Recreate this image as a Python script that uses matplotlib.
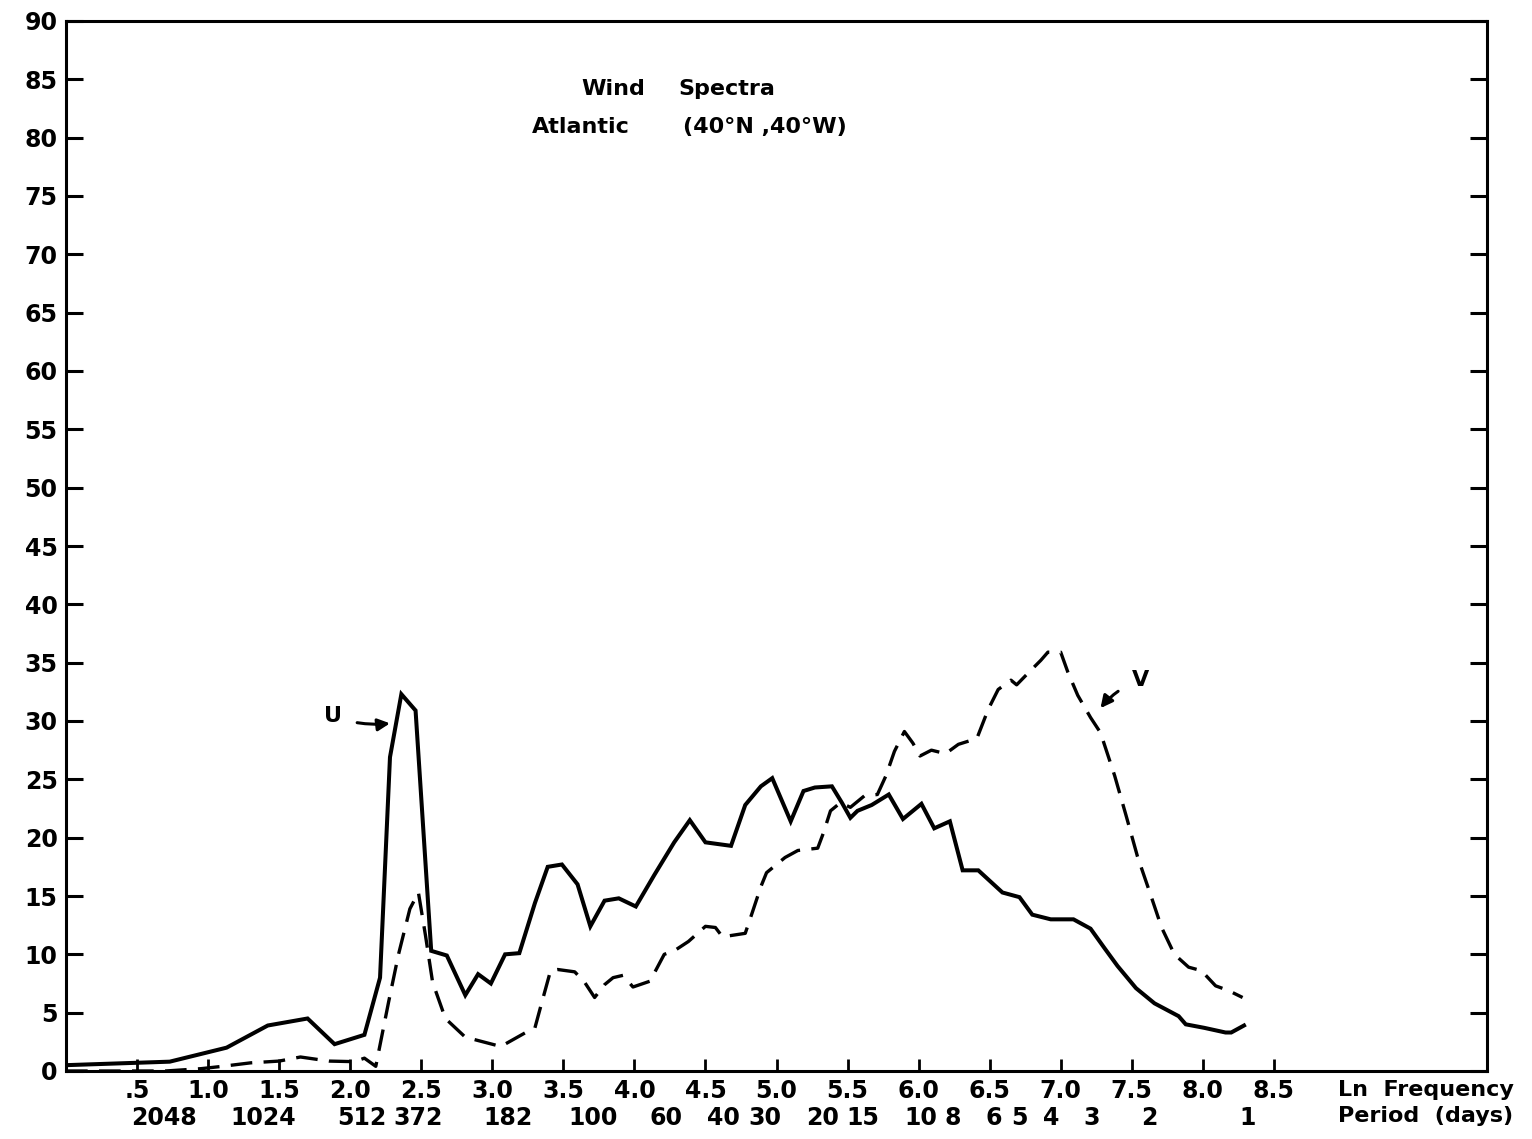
import numpy as np
import matplotlib as mpl
import matplotlib.pyplot as plt

mpl.rcParams['font.family'] = 'DejaVu Sans'
mpl.rcParams['font.weight'] = 'bold'

# ln frequency (x) and spectral estimates for the two wind components
u_lnf = [0.00, 0.73, 1.13, 1.42, 1.70, 1.89, 2.10, 2.21, 2.28, 2.36, 2.46, 2.57,
         2.68, 2.81, 2.90, 2.99, 3.09, 3.19, 3.30, 3.39, 3.49, 3.60, 3.69, 3.79,
         3.89, 4.01, 4.14, 4.28, 4.39, 4.50, 4.68, 4.78, 4.89, 4.97, 5.10, 5.19,
         5.27, 5.39, 5.46, 5.52, 5.57, 5.67, 5.79, 5.89, 6.02, 6.11, 6.22, 6.31,
         6.42, 6.59, 6.71, 6.80, 6.93, 7.09, 7.21, 7.31, 7.40, 7.53, 7.66, 7.83,
         7.88, 8.01, 8.16, 8.20, 8.29]
u_spec = [0.5, 0.8, 2.0, 3.9, 4.5, 2.3, 3.1, 8.0, 26.9, 32.3, 30.9, 10.3,
          9.9, 6.5, 8.3, 7.5, 10.0, 10.1, 14.4, 17.5, 17.7, 16.0, 12.4, 14.6,
          14.8, 14.1, 16.8, 19.6, 21.5, 19.6, 19.3, 22.8, 24.4, 25.1, 21.4, 24.0,
          24.3, 24.4, 23.0, 21.7, 22.3, 22.8, 23.7, 21.6, 22.9, 20.8, 21.4, 17.2,
          17.2, 15.3, 14.9, 13.4, 13.0, 13.0, 12.2, 10.5, 9.0, 7.1, 5.8, 4.7,
          4.0, 3.7, 3.3, 3.3, 3.9]

v_lnf = [0.00, 0.70, 0.95, 1.10, 1.30, 1.50, 1.65, 1.85, 2.03, 2.10, 2.18, 2.27,
         2.34, 2.42, 2.48, 2.53, 2.58, 2.67, 2.81, 3.06, 3.25, 3.30, 3.34, 3.41,
         3.46, 3.58, 3.65, 3.72, 3.79, 3.85, 3.92, 3.99, 4.11, 4.21, 4.28, 4.38,
         4.50, 4.57, 4.62, 4.78, 4.83, 4.89, 4.93, 5.06, 5.15, 5.29, 5.33, 5.38,
         5.45, 5.52, 5.62, 5.71, 5.77, 5.83, 5.90, 5.96, 6.01, 6.09, 6.19, 6.28,
         6.41, 6.49, 6.56, 6.65, 6.69, 6.77, 6.86, 6.91, 7.00, 7.05, 7.12, 7.21,
         7.28, 7.38, 7.46, 7.54, 7.63, 7.71, 7.80, 7.90, 7.99, 8.09, 8.18, 8.28]
v_spec = [0.0, 0.0, 0.2, 0.4, 0.7, 0.85, 1.2, 0.85, 0.8, 1.1, 0.4, 5.9,
          10.0, 13.9, 15.3, 11.6, 7.6, 4.5, 2.9, 2.1, 3.4, 3.7, 5.5, 8.6,
          8.7, 8.5, 7.6, 6.3, 7.4, 8.0, 8.2, 7.2, 7.7, 10.0, 10.3, 11.1,
          12.4, 12.3, 11.5, 11.8, 13.6, 15.8, 17.0, 18.3, 18.9, 19.1, 20.4, 22.3,
          23.0, 22.6, 23.6, 23.7, 25.3, 27.4, 29.1, 28.1, 27.0, 27.5, 27.2, 28.0,
          28.5, 31.0, 32.7, 33.5, 33.1, 34.1, 35.2, 35.9, 35.9, 34.2, 32.2, 30.3,
          29.0, 25.3, 21.9, 18.4, 15.2, 12.3, 10.0, 8.9, 8.6, 7.3, 6.9, 6.3]

lnf_ticks = [0.5, 1.0, 1.5, 2.0, 2.5, 3.0, 3.5, 4.0, 4.5, 5.0, 5.5, 6.0, 6.5, 7.0, 7.5, 8.0, 8.5]
lnf_labels = ['.5', '1.0', '1.5', '2.0', '2.5', '3.0', '3.5', '4.0', '4.5', '5.0',
              '5.5', '6.0', '6.5', '7.0', '7.5', '8.0', '8.5']
period_ticks = [2048, 1024, 512, 372, 182, 100, 60, 40, 30, 20, 15, 10, 8, 6, 5, 4, 3, 2, 1]
y_ticks = list(range(0, 95, 5))

N_DAYS = 4096


def to_lnfreq(p):
    return np.log(N_DAYS / p)


fig = plt.figure(figsize=(15.32, 11.39), dpi=100, facecolor='white')
ax = fig.add_axes([66 / 1532, 68 / 1139, 1421 / 1532, 1050 / 1139])

ax.plot(u_lnf, u_spec, c='k', lw=2.9, solid_joinstyle='miter')
ax.plot(v_lnf, v_spec, c='k', lw=2.4, ls=(0, (6.5, 3.4)))

ax.set_xlim(0, 10)
ax.set_ylim(0, 90)

for s in ax.spines.values():
    s.set_linewidth(2.2)

ax.set_yticks(y_ticks)
ax.set_yticklabels([str(v) for v in y_ticks])
ax.set_xticks(lnf_ticks)
ax.set_xticklabels(lnf_labels)
ax.tick_params(axis='y', which='both', direction='in', length=12, width=2.2,
               pad=6, labelsize=17, left=True, right=True)
ax.tick_params(axis='x', direction='in', length=9, width=2, pad=6, labelsize=17)

# period (days) row under the ln frequency labels; 372 sits a little right
trans = ax.get_xaxis_transform()
for p in period_ticks:
    dx = 8 if p == 372 else 0
    ax.annotate(str(p), xy=(to_lnfreq(p), 0), xycoords=trans,
                xytext=(dx, -25), textcoords='offset points',
                ha='center', va='top', fontsize=17)

ax.text(8.95, -0.0085, 'Ln  Frequency', transform=trans, ha='left', va='top', fontsize=16)
ax.text(8.95, -0.0335, 'Period  (days)', transform=trans, ha='left', va='top', fontsize=16)

ax.text(3.85, 84.2, 'Wind', ha='center', va='center', fontsize=16)
ax.text(4.65, 84.2, 'Spectra', ha='center', va='center', fontsize=16)
ax.text(3.62, 80.9, 'Atlantic', ha='center', va='center', fontsize=16)
ax.text(4.92, 80.9, '(40°N ,40°W)', ha='center', va='center', fontsize=16)

ax.annotate('U', xy=(2.28, 29.8), xytext=(1.88, 30.4), ha='center', va='center', fontsize=16,
            arrowprops=dict(arrowstyle='-|>', lw=2.2, color='k', mutation_scale=18,
                            shrinkA=9, shrinkB=0, connectionstyle='arc3,rad=0.12'))
ax.annotate('V', xy=(7.28, 31.1), xytext=(7.56, 33.5), ha='center', va='center', fontsize=16,
            arrowprops=dict(arrowstyle='-|>', lw=2.2, color='k', mutation_scale=18,
                            shrinkA=9, shrinkB=0, connectionstyle='arc3,rad=0.15'))

fig.savefig('out.png', dpi=100, facecolor='white')
